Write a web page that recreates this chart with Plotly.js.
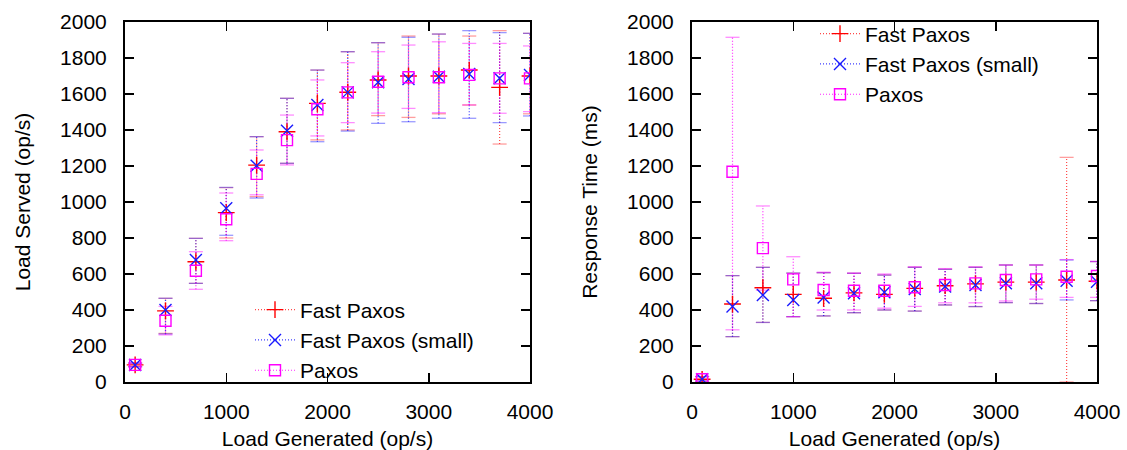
<!DOCTYPE html>
<html>
<head>
<meta charset="utf-8">
<script src="https://cdn.plot.ly/plotly-3.0.1.min.js"></script>
<style>html,body{margin:0;padding:0;background:#fff}#chart{width:1127px;height:450px}</style>
</head>
<body>
<div id="chart"></div>
<script>
// ---- Data ----
const loadGenerated = [100, 400, 700, 1000, 1300, 1600, 1900, 2200, 2500, 2800, 3100, 3400, 3700, 4000];

// Left panel: Load Served (op/s)
const servedFast      = [95, 395, 668, 941, 1205, 1390, 1548, 1610, 1678, 1700, 1700, 1733, 1637, 1700];
const servedFastLo    = [85, 270, 548, 800, 1030, 1215, 1345, 1400, 1480, 1470, 1490, 1539, 1322, 1490];
const servedFastHi    = [105, 465, 798, 1080, 1363, 1576, 1733, 1835, 1885, 1922, 1933, 1922, 1952, 1937];

const servedSmall     = [95, 400, 678, 965, 1202, 1396, 1539, 1609, 1665, 1683, 1696, 1711, 1687, 1706];
const servedSmallLo   = [85, 267, 548, 815, 1022, 1215, 1335, 1394, 1437, 1446, 1465, 1465, 1441, 1478];
const servedSmallHi   = [105, 465, 798, 1081, 1363, 1576, 1733, 1835, 1885, 1915, 1933, 1952, 1941, 1937];

const servedPaxos     = [95, 340, 618, 904, 1156, 1344, 1515, 1609, 1668, 1693, 1693, 1706, 1687, 1687];
const servedPaxosLo   = [85, 262, 515, 785, 1040, 1206, 1367, 1441, 1494, 1520, 1496, 1539, 1493, 1502];
const servedPaxosHi   = [105, 420, 724, 1050, 1289, 1483, 1678, 1774, 1835, 1872, 1890, 1881, 1881, 1867];

// Right panel: Response Time (ms)
const respFast        = [15, 433, 524, 487, 465, 495, 487, 520, 535, 545, 555, 555, 567, 560];
const respFastLo      = [5, 252, 331, 363, 367, 385, 400, 394, 428, 419, 441, 436, 0, 452];
const respFastHi      = [30, 591, 637, 605, 607, 604, 594, 637, 626, 637, 650, 650, 1248, 669];

const respSmall       = [15, 419, 483, 456, 470, 493, 498, 517, 530, 539, 548, 548, 563, 557];
const respSmallLo     = [5, 252, 331, 363, 367, 385, 400, 394, 428, 419, 441, 436, 456, 452];
const respSmallHi     = [30, 591, 637, 605, 607, 604, 594, 637, 626, 637, 650, 650, 678, 669];

const respPaxos       = [15, 1168, 744, 570, 511, 507, 507, 526, 539, 548, 567, 570, 585, 589];
const respPaxosLo     = [5, 290, 510, 363, 400, 400, 410, 420, 440, 440, 450, 460, 470, 470];
const respPaxosHi     = [30, 1915, 978, 696, 610, 605, 600, 640, 630, 640, 650, 650, 680, 670];

const seriesNames = ['Fast Paxos', 'Fast Paxos (small)', 'Paxos'];
const xTicks = [0, 1000, 2000, 3000, 4000];
const yTicks = [0, 200, 400, 600, 800, 1000, 1200, 1400, 1600, 1800, 2000];

// ---- Styles ----
const FONT = 'Liberation Sans, Arial, Helvetica, sans-serif';
const FS = 21;
const styles = [
  {color: '#ff0000', bar: 'rgba(255,40,40,0.85)', cap: 'rgba(255,40,40,0.45)', symbol: 'cross-thin-open', size: 12},
  {color: '#1a1aff', bar: 'rgba(30,30,255,0.85)', cap: 'rgba(30,30,255,0.45)', symbol: 'x-thin-open', size: 12},
  {color: '#ff00ff', bar: 'rgba(255,0,255,0.85)', cap: 'rgba(255,0,255,0.45)', symbol: 'square-open', size: 11}
];

function errTraces(xs, lo, hi, st, xa, ya) {
  const vx = [], vy = [];
  for (let i = 0; i < xs.length; i++) { vx.push(xs[i], xs[i], null); vy.push(lo[i], hi[i], null); }
  return [
    {x: vx, y: vy, mode: 'lines', xaxis: xa, yaxis: ya, showlegend: false, hoverinfo: 'skip',
     line: {color: st.bar, width: 1.2, dash: '1px,2px'}},
    {x: xs.concat(xs), y: lo.concat(hi), mode: 'markers', xaxis: xa, yaxis: ya, showlegend: false, hoverinfo: 'skip',
     marker: {symbol: 'line-ew', size: 10, color: st.cap, line: {color: st.cap, width: 1.3}}}
  ];
}
// points separated by gaps so that no line joins them; the dotted line only shows in the legend key
function markTrace(xs, ys, st, name, xa, ya, leg) {
  const px = [], py = [];
  for (let i = 0; i < xs.length; i++) { px.push(xs[i], null); py.push(ys[i], null); }
  return {x: px, y: py, mode: 'lines+markers', connectgaps: false, name: name, xaxis: xa, yaxis: ya, legend: leg,
    line: {color: st.bar, width: 1.2, dash: '1px,2px'},
    marker: {symbol: st.symbol, size: st.size, color: st.color, line: {color: st.color, width: 1.4}}};
}

const left = [[servedFast, servedFastLo, servedFastHi], [servedSmall, servedSmallLo, servedSmallHi], [servedPaxos, servedPaxosLo, servedPaxosHi]];
const right = [[respFast, respFastLo, respFastHi], [respSmall, respSmallLo, respSmallHi], [respPaxos, respPaxosLo, respPaxosHi]];

const traces = [];
left.forEach((s, i) => { traces.push(...errTraces(loadGenerated, s[1], s[2], styles[i], 'x', 'y')); });
right.forEach((s, i) => { traces.push(...errTraces(loadGenerated, s[1], s[2], styles[i], 'x2', 'y2')); });
left.forEach((s, i) => { traces.push(markTrace(loadGenerated, s[0], styles[i], seriesNames[i], 'x', 'y', 'legend')); });
right.forEach((s, i) => { traces.push(markTrace(loadGenerated, s[0], styles[i], seriesNames[i], 'x2', 'y2', 'legend2')); });

const W = 1127;
function xAxis(domain, anchor) {
  return {domain: domain, anchor: anchor, range: [0, 4000], tickvals: xTicks, ticktext: xTicks.map(String),
    ticks: 'inside', ticklen: 9, tickwidth: 1.5, tickcolor: '#000', showline: true, linewidth: 2, linecolor: '#000',
    mirror: 'ticks', showgrid: false, zeroline: false, ticklabelstandoff: 10,
    tickfont: {family: FONT, size: FS, color: '#000'},
    title: {text: 'Load Generated (op/s)', font: {family: FONT, size: FS, color: '#000'}, standoff: 9}};
}
function yAxis(anchor, title) {
  return {anchor: anchor, domain: [0, 1], range: [0, 2000], tickvals: yTicks, ticktext: yTicks.map(String),
    ticks: 'inside', ticklen: 9, tickwidth: 1.5, tickcolor: '#000', showline: true, linewidth: 2, linecolor: '#000',
    mirror: 'ticks', showgrid: false, zeroline: false, ticklabelstandoff: 12,
    tickfont: {family: FONT, size: FS, color: '#000'},
    title: {text: title, font: {family: FONT, size: FS, color: '#000'}, standoff: 24}};
}

const layout = {
  width: 1127, height: 450,
  margin: {l: 0, r: 0, t: 22, b: 68},
  paper_bgcolor: '#fff', plot_bgcolor: '#fff',
  font: {family: FONT, size: FS, color: '#000'},
  xaxis: xAxis([125 / W, 530 / W], 'y'),
  yaxis: yAxis('x', 'Load Served (op/s)'),
  xaxis2: xAxis([692 / W, 1097 / W], 'y2'),
  yaxis2: yAxis('x2', 'Response Time (ms)'),
  legend: {x: 250 / W, xanchor: 'left', y: (382 - 340) / 360, yanchor: 'middle', bgcolor: 'rgba(0,0,0,0)',
    font: {family: FONT, size: FS, color: '#000'}, tracegroupgap: 0, itemwidth: 40},
  legend2: {x: 815 / W, xanchor: 'left', y: (382 - 64) / 360, yanchor: 'middle', bgcolor: 'rgba(0,0,0,0)',
    font: {family: FONT, size: FS, color: '#000'}, tracegroupgap: 0, itemwidth: 40},
  showlegend: true
};

Plotly.newPlot('chart', traces, layout, {staticPlot: true, displayModeBar: false});
</script>
</body>
</html>
